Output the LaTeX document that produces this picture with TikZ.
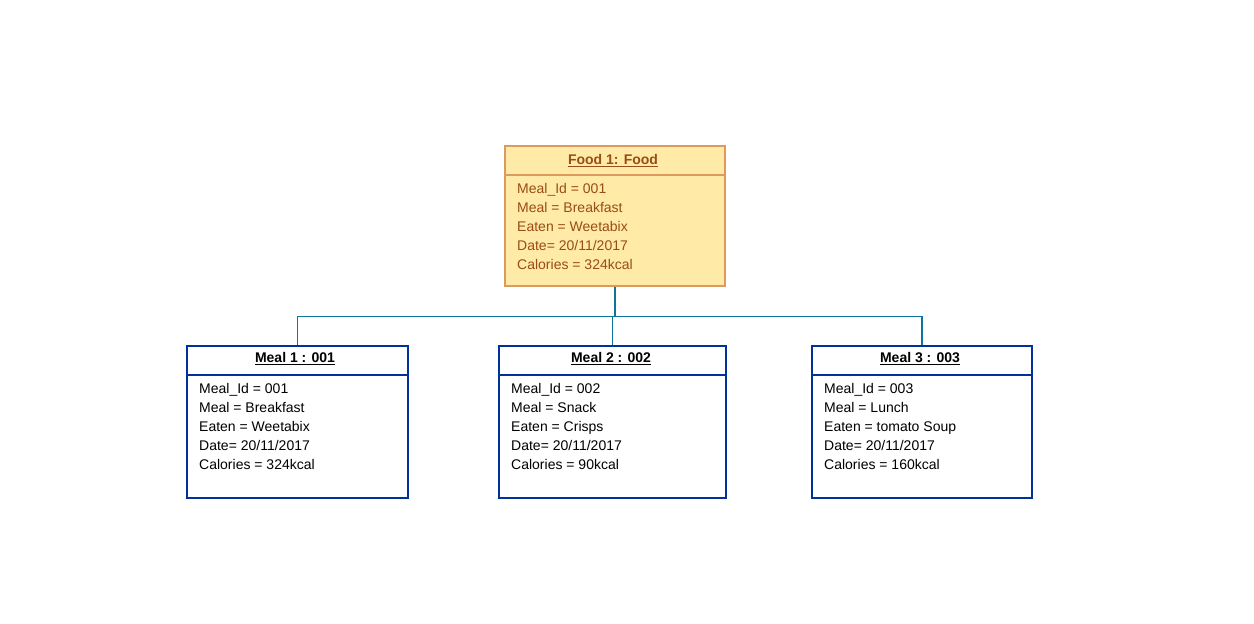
\documentclass[tikz,border=0pt]{standalone}
\usepackage{fontspec}
\setmainfont{Liberation Sans}
\usetikzlibrary{calc}
\definecolor{foodfill}{HTML}{FFEAA8}
\definecolor{foodline}{HTML}{DC9A5C}
\definecolor{foodtext}{HTML}{994C13}
\definecolor{mealline}{HTML}{003399}
\definecolor{conn}{HTML}{10739E}
\tikzset{
  objbox/.style={draw, rectangle, anchor=north west, inner sep=0pt, line width=1.6pt},
  foodbox/.style={objbox, fill=foodfill, draw=foodline},
  mealbox/.style={objbox, fill=white, draw=mealline},
  attr/.style={anchor=base west, inner sep=0pt, font=\fontsize{14}{17}\selectfont},
  ttl/.style={anchor=base, inner sep=0pt, font=\fontsize{14}{17}\selectfont\bfseries},
  link/.style={draw=conn, line width=1.4pt},
}
\begin{document}
\begin{tikzpicture}[x=1pt,y=-1pt]
\useasboundingbox (0,0) rectangle (1254,624);
% Food box
\node[foodbox, minimum width=220pt, minimum height=140pt] (food) at (504,145) {};
\draw[foodline, line width=1.4pt] ($(food.north west)+(0,30)$) -- ($(food.north east)+(0,30)$);
\node[ttl, text=foodtext] (ft) at (613,164) {Food 1: Food};
\draw[foodtext, line width=0.9pt] ([yshift=-2pt]ft.base west) -- ([yshift=-2pt]ft.base east);
\begin{scope}[every node/.append style={text=foodtext}]
\node[attr] (f1) at (517,193) {Meal\_Id = 001};
\node[attr] (f2) at (517,212) {Meal = Breakfast};
\node[attr] (f3) at (517,231) {Eaten = Weetabix};
\node[attr] (f4) at (517,250) {Date= 20/11/2017};
\node[attr] (f5) at (517,269) {Calories = 324kcal};
\end{scope}
% Meal 1
\node[mealbox, minimum width=221pt, minimum height=152pt] (m1) at (186,345) {};
\draw[mealline, line width=1.4pt] ($(m1.north west)+(0,30)$) -- ($(m1.north east)+(0,30)$);
\node[ttl] (t1) at (295,362) {Meal 1 : 001};
\draw[line width=0.9pt] ([yshift=-2pt]t1.base west) -- ([yshift=-2pt]t1.base east);
\node[attr] (a11) at (199,393) {Meal\_Id = 001};
\node[attr] (a12) at (199,412) {Meal = Breakfast};
\node[attr] (a13) at (199,431) {Eaten = Weetabix};
\node[attr] (a14) at (199,450) {Date= 20/11/2017};
\node[attr] (a15) at (199,469) {Calories = 324kcal};
% Meal 2
\node[mealbox, minimum width=227pt, minimum height=152pt] (m2) at (498,345) {};
\draw[mealline, line width=1.4pt] ($(m2.north west)+(0,30)$) -- ($(m2.north east)+(0,30)$);
\node[ttl] (t2) at (611,362) {Meal 2 : 002};
\draw[line width=0.9pt] ([yshift=-2pt]t2.base west) -- ([yshift=-2pt]t2.base east);
\node[attr] (a21) at (511,393) {Meal\_Id = 002};
\node[attr] (a22) at (511,412) {Meal = Snack};
\node[attr] (a23) at (511,431) {Eaten = Crisps};
\node[attr] (a24) at (511,450) {Date= 20/11/2017};
\node[attr] (a25) at (511,469) {Calories = 90kcal};
% Meal 3
\node[mealbox, minimum width=220pt, minimum height=152pt] (m3) at (811,345) {};
\draw[mealline, line width=1.4pt] ($(m3.north west)+(0,30)$) -- ($(m3.north east)+(0,30)$);
\node[ttl] (t3) at (920,362) {Meal 3 : 003};
\draw[line width=0.9pt] ([yshift=-2pt]t3.base west) -- ([yshift=-2pt]t3.base east);
\node[attr] (a31) at (824,393) {Meal\_Id = 003};
\node[attr] (a32) at (824,412) {Meal = Lunch};
\node[attr] (a33) at (824,431) {Eaten = tomato Soup};
\node[attr] (a34) at (824,450) {Date= 20/11/2017};
\node[attr] (a35) at (824,469) {Calories = 160kcal};
% connectors
\coordinate (j) at ($(food.south)+(0,30)$);
\draw[link] (food.south) -- (j);
\draw[link] (j) -| (m1.north);
\draw[link] (j) -| (m3.north);
\draw[link] (j) -| (m2.north);
\end{tikzpicture}
\end{document}
